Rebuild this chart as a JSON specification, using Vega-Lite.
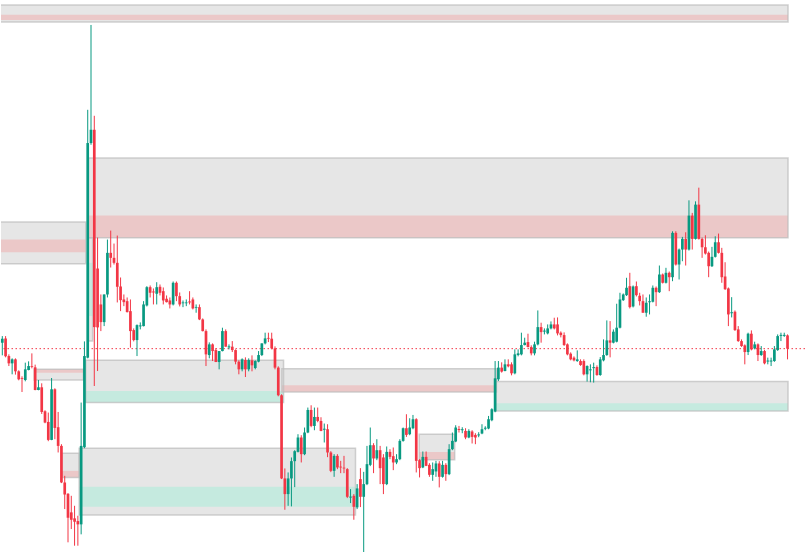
{
"$schema": "https://vega.github.io/schema/vega-lite/v6.json",
"width": 806, "height": 553,
"autosize": {"type": "fit", "contains": "padding"},
"padding": 0,
"background": "white",
"config": {"view": {"stroke": null}},
"datasets": {
"zones": [
{"x0":-1,"x1":239.15,"top":548,"bot":531,"bTop":538.3,"bBot":533,"side":"bear"},
{"x0":-1,"x1":25.4,"top":330.7,"bot":288.7,"bTop":313,"bBot":300.3,"side":"bear"},
{"x0":26.2,"x1":239.15,"top":394.7,"bot":314.7,"bTop":337,"bBot":314.7,"side":"bear"},
{"x0":26.2,"x1":27.5,"top":314.7,"bot":211.3,"bTop":289.7,"bBot":236.3,"side":"bull"},
{"x0":25.4,"x1":85.6,"top":192,"bot":149.7,"bTop":161.3,"bBot":149.7,"side":"bull"},
{"x0":23.4,"x1":107.5,"top":104,"bot":37,"bTop":65.3,"bBot":45.3,"side":"bull"},
{"x0":18.1,"x1":23.4,"top":99,"bot":74.7,"bTop":81.3,"bBot":74.7,"side":"bear"},
{"x0":9.7,"x1":24.7,"top":183,"bot":172.3,"bTop":183,"bBot":179.5,"side":"bear"},
{"x0":85.1,"x1":150.4,"top":183.7,"bot":160.3,"bTop":167,"bBot":160.3,"side":"bear"},
{"x0":126.9,"x1":137.7,"top":118,"bot":92.3,"bTop":100.3,"bBot":92.3,"side":"bear"},
{"x0":150.2,"x1":239.15,"top":170.7,"bot":141.3,"bTop":149,"bBot":141.3,"side":"bull"}
],
"last": [{"price": 203.7}],
"candles": [
{"t":0,"o":209.7,"h":216.3,"l":197,"c":213.7},
{"t":1,"o":214,"h":216.3,"l":195,"c":196},
{"t":2,"o":196.3,"h":198,"l":186.3,"c":189},
{"t":3,"o":189,"h":194,"l":178,"c":193},
{"t":4,"o":193,"h":194,"l":177.7,"c":181},
{"t":5,"o":181,"h":182,"l":172,"c":173},
{"t":6,"o":174.3,"h":176,"l":160.3,"c":173.5},
{"t":7,"o":172.3,"h":189.7,"l":171,"c":183},
{"t":8,"o":182.3,"h":191,"l":182,"c":186.3},
{"t":9,"o":186.3,"h":199,"l":184,"c":185.5},
{"t":10,"o":185,"h":187.7,"l":162,"c":162.3},
{"t":11,"o":162.3,"h":172.3,"l":162,"c":165},
{"t":12,"o":165,"h":169,"l":138.3,"c":140.3},
{"t":13,"o":141,"h":142,"l":129,"c":129.7},
{"t":14,"o":130.3,"h":139.7,"l":111,"c":112.3},
{"t":15,"o":112.3,"h":174.3,"l":112,"c":163},
{"t":16,"o":163,"h":164,"l":113,"c":124.3},
{"t":17,"o":125,"h":140.3,"l":99.7,"c":106.3},
{"t":18,"o":106.3,"h":108,"l":69,"c":69.7},
{"t":19,"o":69.7,"h":76.3,"l":43,"c":57.7},
{"t":20,"o":58.3,"h":59,"l":9.7,"c":34.3},
{"t":21,"o":39.7,"h":56.3,"l":23,"c":32.3},
{"t":22,"o":33.7,"h":46.3,"l":6.3,"c":30.3},
{"t":23,"o":31,"h":36.3,"l":6.3,"c":27.7},
{"t":24,"o":27.7,"h":149.7,"l":17.7,"c":106.3},
{"t":25,"o":105,"h":211,"l":104,"c":196.3},
{"t":26,"o":194.7,"h":443,"l":194,"c":409.7},
{"t":27,"o":409.7,"h":528,"l":408,"c":423},
{"t":28,"o":423,"h":437,"l":166.3,"c":225.3},
{"t":29,"o":284,"h":315,"l":181.3,"c":225},
{"t":30,"o":248,"h":258,"l":221.3,"c":230.3},
{"t":31,"o":230.3,"h":258,"l":226.3,"c":258},
{"t":32,"o":258,"h":313,"l":255,"c":299.7},
{"t":33,"o":299.7,"h":322,"l":285,"c":294.7},
{"t":34,"o":294.7,"h":309,"l":288,"c":289.7},
{"t":35,"o":289.7,"h":317,"l":250,"c":265.7},
{"t":36,"o":266,"h":275,"l":241.3,"c":252.3},
{"t":37,"o":253,"h":258,"l":246.3,"c":250.3},
{"t":38,"o":251.3,"h":255,"l":240,"c":240.3},
{"t":39,"o":241.3,"h":253,"l":204.7,"c":221.3},
{"t":40,"o":222.3,"h":224,"l":211,"c":212.3},
{"t":41,"o":212.3,"h":228,"l":196.3,"c":227.3},
{"t":42,"o":226,"h":230,"l":223,"c":227},
{"t":43,"o":226.3,"h":251.3,"l":226,"c":248},
{"t":44,"o":247,"h":266.3,"l":246,"c":265.3},
{"t":45,"o":265.3,"h":267,"l":255,"c":259.7},
{"t":46,"o":261,"h":264,"l":248,"c":260},
{"t":47,"o":258.7,"h":270.3,"l":248,"c":265.3},
{"t":48,"o":265.7,"h":268,"l":257,"c":259.7},
{"t":49,"o":261.3,"h":265,"l":248,"c":252},
{"t":50,"o":253.7,"h":257,"l":250,"c":250.3},
{"t":51,"o":252,"h":255,"l":244,"c":248},
{"t":52,"o":248,"h":271,"l":247,"c":269.7},
{"t":53,"o":269.7,"h":271,"l":251.3,"c":256.3},
{"t":54,"o":256.3,"h":260,"l":246,"c":248},
{"t":55,"o":249.2,"h":252,"l":245.3,"c":250},
{"t":56,"o":249.2,"h":253,"l":246.3,"c":250},
{"t":57,"o":251,"h":261.3,"l":248,"c":250},
{"t":58,"o":253,"h":255,"l":243,"c":244},
{"t":59,"o":244.7,"h":248,"l":239.7,"c":245.5},
{"t":60,"o":245.3,"h":248,"l":232.3,"c":233},
{"t":61,"o":233,"h":234,"l":221,"c":221.3},
{"t":62,"o":221.3,"h":223,"l":186.3,"c":198},
{"t":63,"o":197.3,"h":210,"l":194,"c":208},
{"t":64,"o":208,"h":209,"l":191.3,"c":201.3},
{"t":65,"o":202.3,"h":204,"l":190.3,"c":190.3},
{"t":66,"o":190.3,"h":201.3,"l":183,"c":201.3},
{"t":67,"o":201.3,"h":224.7,"l":201,"c":221.3},
{"t":68,"o":221.3,"h":223,"l":205.7,"c":205.7},
{"t":69,"o":205,"h":208,"l":203,"c":206},
{"t":70,"o":205.7,"h":211.3,"l":200.3,"c":202.3},
{"t":71,"o":202.3,"h":203,"l":188,"c":190.7},
{"t":72,"o":190.7,"h":192,"l":178,"c":183},
{"t":73,"o":183,"h":194,"l":181,"c":193},
{"t":74,"o":192.3,"h":195,"l":175.3,"c":183},
{"t":75,"o":183,"h":194,"l":181,"c":192.3},
{"t":76,"o":192,"h":197,"l":181,"c":187},
{"t":77,"o":184.3,"h":192,"l":183,"c":191.3},
{"t":78,"o":190.7,"h":201.3,"l":190,"c":197.3},
{"t":79,"o":197.3,"h":209,"l":196.3,"c":209},
{"t":80,"o":209,"h":219.7,"l":208,"c":214},
{"t":81,"o":214.5,"h":219.7,"l":210.3,"c":213.7},
{"t":82,"o":213.7,"h":219.7,"l":203,"c":204},
{"t":83,"o":204,"h":206,"l":183,"c":184.7},
{"t":84,"o":184.7,"h":186,"l":156,"c":157},
{"t":85,"o":157,"h":158,"l":73,"c":73.7},
{"t":86,"o":73.7,"h":83.7,"l":42.3,"c":58},
{"t":87,"o":58,"h":79.7,"l":46.3,"c":73.7},
{"t":88,"o":73.7,"h":94.7,"l":45.7,"c":91},
{"t":89,"o":91,"h":102,"l":65,"c":101},
{"t":90,"o":100.3,"h":118,"l":99.7,"c":114.7},
{"t":91,"o":114.7,"h":117,"l":89.7,"c":98},
{"t":92,"o":98,"h":124.7,"l":97,"c":119.7},
{"t":93,"o":119.7,"h":144.7,"l":119,"c":142.3},
{"t":94,"o":142.3,"h":147,"l":125,"c":126.3},
{"t":95,"o":126.3,"h":144.7,"l":122,"c":135.3},
{"t":96,"o":135.3,"h":144.7,"l":130,"c":131.3},
{"t":97,"o":131.3,"h":135,"l":121,"c":121.3},
{"t":98,"o":122.5,"h":128.7,"l":109.7,"c":123.5},
{"t":99,"o":123,"h":128,"l":95,"c":99.7},
{"t":100,"o":99.7,"h":101,"l":80,"c":81.3},
{"t":101,"o":81.3,"h":98,"l":75.3,"c":96.3},
{"t":102,"o":96.3,"h":98,"l":83,"c":84.7},
{"t":103,"o":85.5,"h":91.3,"l":79,"c":84.7},
{"t":104,"o":84.5,"h":96.3,"l":79,"c":83.7},
{"t":105,"o":83,"h":84,"l":54,"c":55.3},
{"t":106,"o":54.5,"h":63,"l":49,"c":55.5},
{"t":107,"o":56.3,"h":58,"l":32.3,"c":45.3},
{"t":108,"o":44.7,"h":68,"l":43,"c":63.7},
{"t":109,"o":73,"h":84,"l":45,"c":55.3},
{"t":110,"o":55.3,"h":80.3,"l":0,"c":68},
{"t":111,"o":68,"h":106.3,"l":67,"c":88},
{"t":112,"o":87.3,"h":124.7,"l":86,"c":107},
{"t":113,"o":107,"h":109,"l":79,"c":93.7},
{"t":114,"o":93.7,"h":113,"l":92,"c":102},
{"t":115,"o":102,"h":106.3,"l":68,"c":84},
{"t":116,"o":94.7,"h":98,"l":58,"c":68},
{"t":117,"o":68,"h":105.7,"l":67,"c":100.3},
{"t":118,"o":100.3,"h":103,"l":93,"c":95.3},
{"t":119,"o":96,"h":104.7,"l":82,"c":89.7},
{"t":120,"o":89.7,"h":98,"l":88,"c":93},
{"t":121,"o":93,"h":113,"l":92,"c":111.3},
{"t":122,"o":111.3,"h":124.7,"l":110.5,"c":124},
{"t":123,"o":124,"h":138,"l":115.3,"c":117.3},
{"t":124,"o":118,"h":134,"l":117,"c":124.7},
{"t":125,"o":124,"h":137.3,"l":123,"c":133},
{"t":126,"o":133,"h":134,"l":79.7,"c":91.3},
{"t":127,"o":92,"h":93,"l":74.7,"c":84},
{"t":128,"o":84.7,"h":100.7,"l":84,"c":95.3},
{"t":129,"o":95.3,"h":100.7,"l":86,"c":86.3},
{"t":130,"o":87.3,"h":89,"l":75.3,"c":77.3},
{"t":131,"o":77.3,"h":89.7,"l":71.3,"c":83},
{"t":132,"o":80.7,"h":91.3,"l":75.3,"c":88.7},
{"t":133,"o":88.7,"h":91,"l":64.7,"c":75.3},
{"t":134,"o":75.3,"h":91.3,"l":74.5,"c":87.3},
{"t":135,"o":87.3,"h":89,"l":71.3,"c":78},
{"t":136,"o":78,"h":108,"l":77,"c":103},
{"t":137,"o":103,"h":119.7,"l":102,"c":111.3},
{"t":138,"o":110.7,"h":127,"l":110,"c":124.7},
{"t":139,"o":123.2,"h":126.3,"l":119.7,"c":122.2},
{"t":140,"o":122,"h":125,"l":119,"c":123},
{"t":141,"o":121.3,"h":124,"l":113,"c":114.7},
{"t":142,"o":114.7,"h":123,"l":114,"c":121.3},
{"t":143,"o":120.7,"h":122,"l":108.7,"c":115.3},
{"t":144,"o":117.3,"h":119,"l":108,"c":114.7},
{"t":145,"o":116.8,"h":120,"l":115,"c":117.8},
{"t":146,"o":118.7,"h":128,"l":118,"c":123},
{"t":147,"o":123.5,"h":126,"l":122,"c":124.5},
{"t":148,"o":123.7,"h":136.3,"l":123,"c":133},
{"t":149,"o":132,"h":144,"l":131,"c":143},
{"t":150,"o":140.7,"h":191.3,"l":140,"c":174},
{"t":151,"o":173,"h":191.3,"l":171.3,"c":184.7},
{"t":152,"o":184.7,"h":190,"l":179.7,"c":180.7},
{"t":153,"o":181.3,"h":193,"l":181,"c":188},
{"t":154,"o":188,"h":193,"l":185,"c":186},
{"t":155,"o":188,"h":190,"l":177,"c":179},
{"t":156,"o":179,"h":203,"l":178,"c":198},
{"t":157,"o":197.3,"h":203,"l":196,"c":199},
{"t":158,"o":198,"h":219.7,"l":197,"c":207.3},
{"t":159,"o":207.3,"h":214.7,"l":207,"c":209.7},
{"t":160,"o":210.3,"h":218.7,"l":205,"c":205.3},
{"t":161,"o":205.3,"h":207,"l":197,"c":199},
{"t":162,"o":199,"h":210.7,"l":197,"c":208},
{"t":163,"o":208,"h":242,"l":207,"c":225.3},
{"t":164,"o":225.3,"h":229.7,"l":209.7,"c":220.3},
{"t":165,"o":220.8,"h":224,"l":218,"c":221.8},
{"t":166,"o":219,"h":228,"l":218,"c":224},
{"t":167,"o":224,"h":231,"l":223,"c":228},
{"t":168,"o":228,"h":234.7,"l":223,"c":224},
{"t":169,"o":228,"h":235,"l":217,"c":219},
{"t":170,"o":219.7,"h":221,"l":215,"c":217.3},
{"t":171,"o":217.3,"h":220,"l":206.5,"c":207.3},
{"t":172,"o":208,"h":209,"l":197,"c":198},
{"t":173,"o":198.7,"h":200,"l":192,"c":193},
{"t":174,"o":194.7,"h":196,"l":191,"c":192},
{"t":175,"o":191.3,"h":202,"l":190.5,"c":193},
{"t":176,"o":191.3,"h":193,"l":186.5,"c":187.3},
{"t":177,"o":191.3,"h":193,"l":177,"c":178},
{"t":178,"o":178,"h":187,"l":170.7,"c":186.3},
{"t":179,"o":182,"h":188,"l":170,"c":183},
{"t":180,"o":184.2,"h":189.7,"l":169.7,"c":185.2},
{"t":181,"o":185.3,"h":187,"l":176.5,"c":177.3},
{"t":182,"o":177.3,"h":195.3,"l":176.5,"c":193},
{"t":183,"o":192,"h":213,"l":191,"c":197.3},
{"t":184,"o":197.3,"h":232,"l":196.5,"c":212},
{"t":185,"o":212,"h":231.3,"l":195,"c":209.7},
{"t":186,"o":209.7,"h":223,"l":209,"c":220.7},
{"t":187,"o":210.7,"h":248.7,"l":210,"c":224.7},
{"t":188,"o":224.7,"h":259.7,"l":224,"c":253},
{"t":189,"o":252.3,"h":259,"l":251.5,"c":258},
{"t":190,"o":257.3,"h":274.7,"l":256.5,"c":264.7},
{"t":191,"o":266.3,"h":279.7,"l":244,"c":245.3},
{"t":192,"o":246,"h":267,"l":245,"c":266},
{"t":193,"o":266.3,"h":271,"l":256,"c":257.3},
{"t":194,"o":256.7,"h":259.7,"l":247,"c":251.3},
{"t":195,"o":251.3,"h":258,"l":239.7,"c":239.7},
{"t":196,"o":239.7,"h":255,"l":235.7,"c":249.7},
{"t":197,"o":250.2,"h":258,"l":238,"c":251.2},
{"t":198,"o":250.7,"h":267,"l":250,"c":264.7},
{"t":199,"o":264.7,"h":266,"l":246.3,"c":260.3},
{"t":200,"o":260.3,"h":287,"l":259.5,"c":278},
{"t":201,"o":278,"h":279,"l":269,"c":269.7},
{"t":202,"o":269.7,"h":284.7,"l":269,"c":279.7},
{"t":203,"o":279.7,"h":281,"l":261.3,"c":275.3},
{"t":204,"o":275.3,"h":321.3,"l":271.3,"c":319.7},
{"t":205,"o":319.7,"h":321.3,"l":287,"c":288},
{"t":206,"o":288,"h":304,"l":273,"c":303},
{"t":207,"o":303,"h":315.7,"l":291.3,"c":313.7},
{"t":208,"o":313.7,"h":320.3,"l":287,"c":303},
{"t":209,"o":303,"h":352.3,"l":302,"c":337},
{"t":210,"o":337,"h":339.7,"l":303,"c":313.7},
{"t":211,"o":313.7,"h":351.3,"l":313,"c":348},
{"t":212,"o":348,"h":365,"l":313,"c":313.7},
{"t":213,"o":313.7,"h":315,"l":294.7,"c":305.3},
{"t":214,"o":305.3,"h":317.3,"l":298,"c":299},
{"t":215,"o":299.7,"h":301,"l":275.3,"c":286.3},
{"t":216,"o":286.3,"h":305.7,"l":285.5,"c":295.7},
{"t":217,"o":295.7,"h":316.3,"l":295,"c":310.3},
{"t":218,"o":310.3,"h":319,"l":299,"c":299.7},
{"t":219,"o":299.7,"h":304.7,"l":269.7,"c":275.3},
{"t":220,"o":276,"h":290.3,"l":262.5,"c":263.3},
{"t":221,"o":264,"h":265,"l":226.3,"c":238},
{"t":222,"o":239.2,"h":255.3,"l":235,"c":240.2},
{"t":223,"o":240.7,"h":242,"l":221.5,"c":222.3},
{"t":224,"o":223,"h":226.3,"l":210.5,"c":211.3},
{"t":225,"o":211.3,"h":213,"l":205.5,"c":206.3},
{"t":226,"o":207,"h":208,"l":188,"c":200.3},
{"t":227,"o":200.3,"h":219.7,"l":197.3,"c":218.7},
{"t":228,"o":218.7,"h":222,"l":202,"c":203},
{"t":229,"o":204,"h":210.7,"l":203,"c":208},
{"t":230,"o":208,"h":209,"l":191.3,"c":197.3},
{"t":231,"o":197.3,"h":206.3,"l":196.5,"c":201.3},
{"t":232,"o":201.3,"h":202.5,"l":188,"c":189},
{"t":233,"o":190.8,"h":194.7,"l":188,"c":191.8},
{"t":234,"o":190.8,"h":194.7,"l":186.3,"c":191.8},
{"t":235,"o":191.3,"h":206.3,"l":190.5,"c":203},
{"t":236,"o":202.3,"h":218,"l":201.5,"c":216.3},
{"t":237,"o":216.5,"h":219.7,"l":211.3,"c":217.5},
{"t":238,"o":216.5,"h":219.7,"l":215.5,"c":217.5},
{"t":239,"o":217,"h":218,"l":193,"c":203.7}
]
},
"layer": [
{
"data": {"name": "zones"},
"mark": {"type": "rect", "color": "#e6e6e6", "clip": true},
"encoding": {
"x": {"field": "x0", "type": "quantitative", "scale": {"domain": [-0.395, 244.32], "nice": false, "zero": false, "padding": 0}, "axis": null},
"x2": {"field": "x1"},
"y": {"field": "top", "type": "quantitative", "scale": {"domain": [0, 553], "nice": false, "zero": false, "padding": 0}, "axis": null},
"y2": {"field": "bot"}
}
},
{
"data": {"name": "zones"},
"mark": {"type": "rect", "clip": true},
"encoding": {
"x": {"field": "x0", "type": "quantitative", "axis": null},
"x2": {"field": "x1"},
"y": {"field": "bTop", "type": "quantitative", "axis": null},
"y2": {"field": "bBot"},
"color": {"field": "side", "type": "nominal", "scale": {"domain": ["bear", "bull"], "range": ["#ebc8c8", "#c5eadf"]}, "legend": null}
}
},
{
"data": {"name": "zones"},
"mark": {"type": "rect", "fill": null, "fillOpacity": 0, "stroke": "#bcbcbc", "strokeOpacity": 0.7, "strokeWidth": 1.5, "clip": true},
"encoding": {
"x": {"field": "x0", "type": "quantitative", "axis": null},
"x2": {"field": "x1"},
"y": {"field": "top", "type": "quantitative", "axis": null},
"y2": {"field": "bot"}
}
},
{
"data": {"name": "last"},
"mark": {"type": "rule", "color": "#f23645", "strokeWidth": 1, "strokeDash": [1.5, 2.5]},
"encoding": {
"y": {"field": "price", "type": "quantitative", "axis": null}
}
},
{
"data": {"name": "candles"},
"mark": {"type": "rule", "strokeWidth": 1},
"encoding": {
"x": {"field": "t", "type": "quantitative", "axis": null},
"y": {"field": "l", "type": "quantitative", "axis": null},
"y2": {"field": "h"},
"color": {"condition": {"test": "datum.c >= datum.o", "value": "#089981"}, "value": "#f23645"}
}
},
{
"data": {"name": "candles"},
"mark": {"type": "bar", "size": 2.7},
"encoding": {
"x": {"field": "t", "type": "quantitative", "axis": null},
"y": {"field": "o", "type": "quantitative", "axis": null},
"y2": {"field": "c"},
"color": {"condition": {"test": "datum.c >= datum.o", "value": "#089981"}, "value": "#f23645"}
}
}
]
}
